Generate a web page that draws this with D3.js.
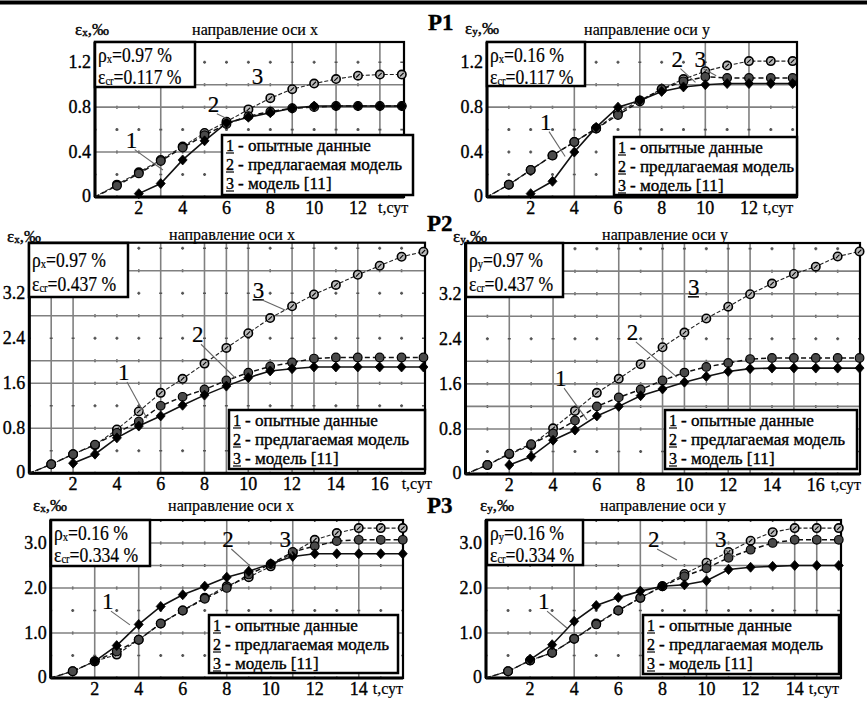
<!DOCTYPE html>
<html><head><meta charset="utf-8">
<script src="https://cdn.jsdelivr.net/npm/d3@7"></script>
<style>
body{margin:0;background:#fff}
svg{display:block}
</style>
</head><body>
<svg id="c" width="867" height="702" font-family="'Liberation Serif','DejaVu Serif','Times New Roman',serif"></svg>
<script>
// ---------------- DATA ----------------
const daysP1 = [0,1,2,3,4,5,6,7,8,9,10,11,12,13,14];
const daysP2 = [0,1,2,3,4,5,6,7,8,9,10,11,12,13,14,15,16,17,18];
const daysP3 = [0,1,2,3,4,5,6,7,8,9,10,11,12,13,14,15,16];

// series: exp = опытные данные (1), model = предлагаемая модель (2), m11 = модель [11] (3)
const p1xExp   = [null,null,0.03,0.12,0.33,0.50,0.66,0.71,0.75,0.79,0.81,0.81,0.81,0.81,0.81];
const p1xModel = [0,0.10,0.21,0.32,0.44,0.55,0.65,0.72,0.76,0.79,0.80,0.81,0.81,0.81,0.81];
const p1xM11   = [0,0.11,0.22,0.33,0.45,0.57,0.67,0.78,0.88,0.96,1.01,1.05,1.08,1.09,1.09];

const p1yExp   = [null,null,0.03,0.14,0.40,0.62,0.80,0.86,0.94,0.98,1.00,1.01,1.01,1.01,1.01];
const p1yModel = [0,0.11,0.24,0.37,0.49,0.61,0.73,0.85,0.96,1.03,1.07,1.06,1.06,1.06,1.06];
const p1yM11   = [0,0.11,0.24,0.37,0.49,0.61,0.75,0.86,0.96,1.05,1.12,1.17,1.21,1.21,1.21];

const p2xExp   = [null,null,0.18,0.34,0.63,0.84,1.02,1.21,1.39,1.55,1.70,1.82,1.86,1.89,1.89,1.89,1.89,1.89,1.89];
const p2xModel = [0,0.16,0.34,0.51,0.72,0.92,1.20,1.36,1.49,1.65,1.79,1.90,1.97,2.04,2.06,2.06,2.06,2.06,2.06];
const p2xM11   = [0,0.16,0.34,0.50,0.78,1.10,1.43,1.68,1.95,2.23,2.49,2.76,2.97,3.18,3.35,3.53,3.69,3.85,3.94];

const p2yExp   = [null,null,0.16,0.31,0.60,0.78,1.03,1.20,1.39,1.51,1.63,1.73,1.82,1.87,1.88,1.88,1.88,1.88,1.88];
const p2yModel = [0,0.16,0.36,0.53,0.72,0.95,1.20,1.36,1.50,1.66,1.80,1.90,1.97,2.04,2.06,2.06,2.06,2.06,2.06];
const p2yM11   = [0,0.16,0.35,0.51,0.81,1.12,1.44,1.69,1.95,2.25,2.51,2.76,2.97,3.19,3.38,3.55,3.68,3.86,3.95];

const p3xExp   = [null,null,0.37,0.72,1.19,1.59,1.85,2.04,2.24,2.37,2.54,2.70,2.76,2.76,2.76,2.76,2.76];
const p3xModel = [0,0.15,0.37,0.59,0.85,1.21,1.50,1.76,2.00,2.30,2.53,2.80,2.93,3.04,3.07,3.07,3.07];
const p3xM11   = [0,0.15,0.37,0.52,0.85,1.21,1.50,1.78,2.04,2.24,2.48,2.78,3.07,3.22,3.33,3.33,3.33];

const p3yExp   = [null,null,0.41,0.74,1.26,1.61,1.79,1.93,2.04,2.07,2.16,2.41,2.46,2.48,2.50,2.50,2.50];
const p3yModel = [0,0.15,0.39,0.56,0.87,1.19,1.50,1.78,2.04,2.26,2.44,2.67,2.85,3.00,3.07,3.07,3.07];
const p3yM11   = [0,0.15,0.39,0.56,0.87,1.21,1.50,1.78,2.04,2.31,2.56,2.80,3.05,3.24,3.33,3.33,3.33];

const yTicksP1 = [0,0.4,0.8,1.2];  const yTickLabelsP1 = ["0","0.4","0.8","1.2"];
const yTicksP2 = [0,0.8,1.6,2.4,3.2]; const yTickLabelsP2 = ["0","0.8","1.6","2.4","3.2"];
const yTicksP3 = [0,1,2,3]; const yTickLabelsP3 = ["0","1.0","2.0","3.0"];
const xTicksP1 = [2,4,6,8,10,12];
const xTicksP2 = [2,4,6,8,10,12,14,16];
const xTicksP3 = [2,4,6,8,10,12,14];
const xAxisUnit = "t,сут";

const titleX = "направление оси x";
const titleY = "направление оси y";
const legendLabels = ["опытные данные","предлагаемая модель","модель [11]"];
const legendNums = ["1","2","3"];
const panelGroupLabels = ["P1","P2","P3"];
const rhoValues = ["0.97 %","0.16 %","0.97 %","0.97 %","0.16 %","0.16 %"];
const rhoSubs = ["x","x","x","y","x","y"];
const ecrValues = ["0.117 %","0.117 %","0.437 %","0.437 %","0.334 %","0.334 %"];

// ---------------- LAYOUT ----------------
const panels = [
 {days:daysP1, s:[p1xExp,p1xModel,p1xM11], xr:[95,404], xd:[0,14.1], yr:[197,42], yd:[0,1.38],
  yt:yTicksP1, ytl:yTickLabelsP1, xt:xTicksP1, ystep:0.2, axis:"x", title:titleX, tcx:255, tby:35, alx:75, aly:35, uo:20,
  solidX:[3,9,11,13], solidY:[0.4,0.8,1.0], info:[95,42,100,45], leg:[222,135,191,60],
  ptr:[{t:"1",x:1.4,y:0.44,lx:3.1,ly:0.24},{t:"2",x:5.15,y:0.76,lx:6.0,ly:0.7},{t:"3",x:7.15,y:1.01}]},
 {days:daysP1, s:[p1yExp,p1yModel,p1yM11], xr:[487,797], xd:[0,14.2], yr:[197,42], yd:[0,1.38],
  yt:yTicksP1, ytl:yTickLabelsP1, xt:xTicksP1, ystep:0.2, axis:"y", title:titleY, tcx:647, tby:35, alx:465, aly:34, uo:14,
  solidX:[4,7,10,12], solidY:[0.8,1.0], info:[487,42,98,44], leg:[614,137,183,58],
  ptr:[{t:"1",x:2.43,y:0.6,lx:3.58,ly:0.36},{t:"2",x:8.45,y:1.16,lx:9.55,ly:1.02},{t:"3",x:9.5,y:1.16,lx:10.5,ly:1.08}]},
 {days:daysP2, s:[p2xExp,p2xModel,p2xM11], xr:[29.3,425], xd:[0,18.07], yr:[473.3,242.7], yd:[0,4.1],
  yt:yTicksP2, ytl:yTickLabelsP2, xt:xTicksP2, ystep:0.4, axis:"x", title:titleX, tcx:232, tby:240, alx:7, aly:242, uo:22,
  solidX:[1,2,6,8,9,10,12,13,15], solidY:[0.8,1.6,2.0,2.8,3.6], info:[29,243,99,54], leg:[229,410,196,59],
  ptr:[{t:"1",x:4.05,y:1.66,lx:5.37,ly:0.98},{t:"2",x:7.43,y:2.33,lx:9.39,ly:1.7},{t:"3",x:10.2,y:3.12,lx:11.7,ly:2.9,u:true}]},
 {days:daysP2, s:[p2yExp,p2yModel,p2yM11], xr:[465.5,860], xd:[0,18.02], yr:[474,243], yd:[0,4.1],
  yt:yTicksP2, ytl:yTickLabelsP2, xt:xTicksP2, ystep:0.4, axis:"y", title:titleY, tcx:665, tby:240, alx:453, aly:242, uo:15,
  solidX:[2,4,7,9,10,12,13,15], solidY:[0.8,1.2,1.6,2.0,2.8,3.2,3.6], info:[466,243,97,54], leg:[665,410,192,59],
  ptr:[{t:"1",x:4.09,y:1.56,lx:5.55,ly:0.96},{t:"2",x:7.37,y:2.38,lx:9.66,ly:1.72},{t:"3",x:10.16,y:3.18,u:true}]},
 {days:daysP3, s:[p3xExp,p3xModel,p3xM11], xr:[50.7,403], xd:[0,16.01], yr:[678,520], yd:[0,3.51],
  yt:yTicksP3, ytl:yTickLabelsP3, xt:xTicksP3, ystep:0.5, axis:"x", title:titleX, tcx:231, tby:511, alx:33, aly:511, uo:14,
  solidX:[2,4,8,11,14], solidY:[1.0,2.0,2.5,3.0], info:[51,520,99,46], leg:[209,615,189,58],
  ptr:[{t:"1",x:2.33,y:1.53,lx:3.6,ly:1.18},{t:"2",x:7.8,y:2.91,lx:9.06,ly:2.49},{t:"3",x:10.4,y:2.91,lx:11.0,ly:2.73}]},
 {days:daysP3, s:[p3yExp,p3yModel,p3yM11], xr:[486,841], xd:[0,16.1], yr:[678,520], yd:[0,3.51],
  yt:yTicksP3, ytl:yTickLabelsP3, xt:xTicksP3, ystep:0.5, axis:"y", title:titleY, tcx:663, tby:511, alx:480, aly:511, uo:14,
  solidX:[4,7,10,14,15], solidY:[1.0,2.0,2.5,3.0], info:[487,520,96,45], leg:[643,615,196,59],
  ptr:[{t:"1",x:2.36,y:1.53,lx:3.67,ly:1.11},{t:"2",x:7.35,y:2.91,lx:8.66,ly:2.62},{t:"3",x:10.39,y:2.91,lx:11.3,ly:2.69}]}
];
const groupLabelPos = [[428,30],[427,231],[427,513]];
const FONT = "'Liberation Serif','DejaVu Serif','Times New Roman',serif";

// ---------------- DRAW ----------------
const svg = d3.select("#c");
function txt(sel, x, y, size, s){
  return sel.append("text").attr("x",x).attr("y",y).attr("font-size",size)
    .attr("font-family",FONT).style("font-family",FONT).attr("fill","#000")
    .attr("stroke","#000").attr("stroke-width",0.35).text(s===undefined?null:s);
}
svg.append("rect").attr("width",867).attr("height",702).attr("fill","#fff");
svg.append("line").attr("x1",0).attr("x2",867).attr("y1",2.5).attr("y2",2.5).attr("stroke","#000").attr("stroke-width",4);

panelGroupLabels.forEach((t,i)=>{
  txt(svg, groupLabelPos[i][0], groupLabelPos[i][1], 23, t).attr("font-weight","bold");
});

panels.forEach((p,pi)=>{
  const g = svg.append("g");
  const x = d3.scaleLinear().domain(p.xd).range(p.xr);
  const y = d3.scaleLinear().domain(p.yd).range(p.yr);
  const [x0,x1] = p.xr, [y0,y1] = p.yr;
  const dayW = x(1)-x(0), stepH = y(0)-y(p.ystep);

  // grid
  const gx = d3.range(1, Math.floor(p.xd[1]-0.2)+1);
  const gy = d3.range(1, Math.floor((p.yd[1]-0.05)/p.ystep)+1).map(k=>+(k*p.ystep).toFixed(2));
  gx.forEach(d=>{
    const solid = p.solidX.includes(d);
    g.append("line").attr("x1",x(d)).attr("x2",x(d)).attr("y1",y0).attr("y2",y1)
      .attr("stroke", solid? "#808080":"#555").attr("stroke-width", 1.6)
      .attr("stroke-dasharray", solid? null : `3,${stepH-3}`).attr("stroke-dashoffset", solid?null:1.5);
  });
  gy.forEach(v=>{
    const solid = p.solidY.some(s=>Math.abs(s-v)<1e-6);
    g.append("line").attr("x1",x0).attr("x2",x1).attr("y1",y(v)).attr("y2",y(v))
      .attr("stroke", solid? "#808080":"#555").attr("stroke-width", 1.6)
      .attr("stroke-dasharray", solid? null : `3,${dayW-3}`).attr("stroke-dashoffset", solid?null:1.5);
  });

  // frame
  g.append("rect").attr("x",x0).attr("y",y1).attr("width",x1-x0).attr("height",y0-y1)
    .attr("fill","none").attr("stroke","#000").attr("stroke-width",2.2);
  g.append("line").attr("x1",x0).attr("x2",x1).attr("y1",y0).attr("y2",y0).attr("stroke","#000").attr("stroke-width",3);
  g.append("line").attr("x1",x0).attr("x2",x0).attr("y1",y0).attr("y2",y1).attr("stroke","#000").attr("stroke-width",3);

  // series lines
  const styles = [
    {dash:null, w:1.6, c:"#111"},
    {dash:"5,3", w:1.5, c:"#111"},
    {dash:"4,2", w:1.1, c:"#222"}
  ];
  [2,1,0].forEach(si=>{
    const pts = p.days.map((d,i)=>[d,p.s[si][i]]).filter(q=>q[1]!==null);
    const line = d3.line().x(q=>x(q[0])).y(q=>y(q[1]));
    g.append("path").attr("d",line(pts)).attr("fill","none").attr("stroke",styles[si].c)
      .attr("stroke-width",styles[si].w).attr("stroke-dasharray",styles[si].dash);
  });
  // markers
  [2,1,0].forEach(si=>{
    const pts = p.days.map((d,i)=>[d,p.s[si][i]]).filter(q=>q[1]!==null && !(q[0]===0));
    pts.forEach(q=>{
      const cx = x(q[0]), cy = y(q[1]);
      if(si===0){
        g.append("path").attr("d",`M${cx},${cy-5}L${cx+4.5},${cy}L${cx},${cy+5}L${cx-4.5},${cy}Z`)
          .attr("fill","#000").attr("stroke","#000").attr("stroke-width",0.8);
      } else if(si===1){
        g.append("circle").attr("cx",cx).attr("cy",cy).attr("r",4.3).attr("fill","#4a4a4a").attr("stroke","#000").attr("stroke-width",1.2);
      } else {
        g.append("circle").attr("cx",cx).attr("cy",cy).attr("r",4.2).attr("fill","#bbb").attr("stroke","#000").attr("stroke-width",1.6);
        g.append("line").attr("x1",cx-1.8).attr("y1",cy+1.8).attr("x2",cx+1.8).attr("y2",cy-1.8).attr("stroke","#000").attr("stroke-width",1.1);
      }
    });
  });

  // y tick labels
  p.yt.forEach((v,i)=>{
    txt(g, x0-4, y(v)+(v===0?5:6), 18, p.ytl[i]).attr("text-anchor","end");
  });
  // x tick labels
  p.xt.forEach(v=>{
    txt(g, x(v), y0+17, 18, v).attr("text-anchor","middle");
  });
  txt(g, x(p.xt[p.xt.length-1])+p.uo, y0+16, 16, xAxisUnit).attr("stroke-width",0.2);

  // axis label
  const al = txt(g, p.alx, p.aly, 17);
  al.append("tspan").text("ε");
  al.append("tspan").attr("font-size",11).attr("dy",1).text(p.axis);
  al.append("tspan").attr("dy",-1).text(",‰");
  // title
  txt(g, p.tcx, p.tby, 16, p.title).attr("text-anchor","middle").attr("stroke-width",0.2);

  // info box
  const [ix,iy,iw,ih] = p.info;
  const lh1 = ih > 50 ? 24 : 20, lh2 = ih > 50 ? 48 : 42;
  g.append("rect").attr("x",ix).attr("y",iy).attr("width",iw).attr("height",ih).attr("fill","#fff").attr("stroke","#000").attr("stroke-width",2.5);
  const ig1 = g.append("g").attr("transform",`translate(${ix+3},${iy+lh1}) scale(0.88,1)`);
  const t1 = txt(ig1, 0, 0, 20).attr("stroke-width",0.2);
  t1.append("tspan").text("ρ");
  t1.append("tspan").attr("font-size",12).attr("dy",1).text(rhoSubs[pi]);
  t1.append("tspan").attr("dy",-1).text("=" + rhoValues[pi]);
  const ig2 = g.append("g").attr("transform",`translate(${ix+3},${iy+lh2}) scale(0.88,1)`);
  const t2 = txt(ig2, 0, 0, 20).attr("stroke-width",0.2);
  t2.append("tspan").text("ε");
  t2.append("tspan").attr("font-size",12).attr("dy",1).text("cr");
  t2.append("tspan").attr("dy",-1).text("=" + ecrValues[pi]);

  // legend box
  const [lx,ly,lw,lh] = p.leg;
  g.append("rect").attr("x",lx).attr("y",ly).attr("width",lw).attr("height",lh).attr("fill","#fff").attr("stroke","#000").attr("stroke-width",2.5);
  legendLabels.forEach((t,i)=>{
    const by = ly + 16 + i*19;
    txt(g, lx+4, by, 16, legendNums[i]);
    g.append("line").attr("x1",lx+4).attr("x2",lx+12).attr("y1",by+2).attr("y2",by+2).attr("stroke","#000").attr("stroke-width",1.2);
    const lg = g.append("g").attr("transform",`translate(${lx+16},${by}) scale(1.07,1)`);
    txt(lg, 0, 0, 16, "- " + t);
  });

  // pointer labels
  p.ptr.forEach(q=>{
    const tx = x(q.x), ty = y(q.y);
    txt(g, tx, ty, 23, q.t).attr("stroke-width",0.2);
    if(q.u) g.append("line").attr("x1",tx).attr("x2",tx+11).attr("y1",ty+2).attr("y2",ty+2).attr("stroke","#000").attr("stroke-width",1.5);
    if(q.lx!==undefined){
      g.append("line").attr("x1",tx+9).attr("y1",ty+2).attr("x2",x(q.lx)).attr("y2",y(q.ly))
        .attr("stroke","#666").attr("stroke-width",1.1);
    }
  });
});
</script>
</body></html>
